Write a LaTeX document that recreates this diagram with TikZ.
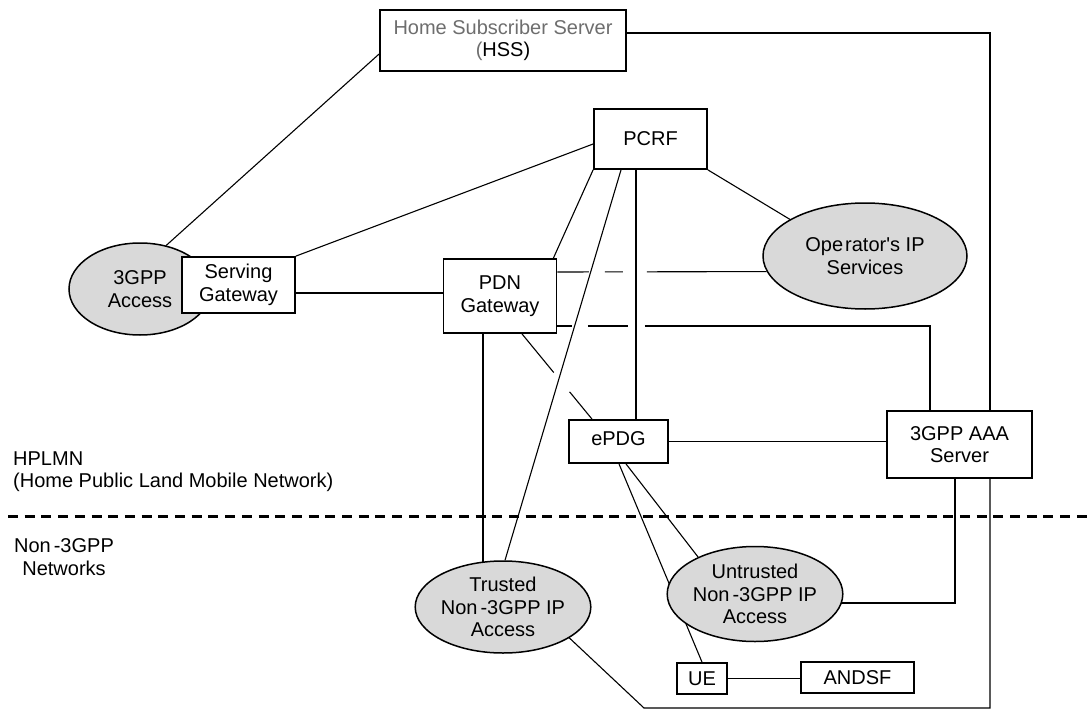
\documentclass[tikz,border=0pt]{standalone}
\usepackage{fontspec}
\setmainfont{Liberation Sans}
\usetikzlibrary{shapes.geometric,calc}
\pgfdeclarelayer{bg}
\pgfsetlayers{bg,main}
\definecolor{accfill}{HTML}{D9D9D9}
\definecolor{hssgray}{HTML}{6E6E6E}
\begin{document}
\begin{tikzpicture}[x=1pt,y=-1pt,
  every node/.style={font=\fontsize{20}{22.5}\selectfont, align=center, inner sep=0pt},
  box/.style={draw, line width=1.8pt, fill=white, rectangle},
  cloud/.style={draw, line width=1.5pt, fill=accfill, ellipse},
  conn/.style={line width=1.1pt},
  sep/.style={line width=3pt, dash pattern=on 10pt off 6.7pt},
  lbl/.style={anchor=base west, align=left}
]
\useasboundingbox (0,0) rectangle (1092,709);

% ellipses
\node[cloud, minimum width=142pt, minimum height=92pt] (acc3) at (140,289) {3GPP\\Access};
\node[cloud, minimum width=204pt, minimum height=106pt] (ops) at (865,256) {Ope\kern2pt rator\textquotesingle s IP\\Services};
\node[cloud, minimum width=142pt, minimum height=92pt] (trusted) at (503,607) {Trusted\\Non\kern3pt-3GPP IP\\Access};
\node[cloud, minimum width=142pt, minimum height=95pt] (untrusted) at (755,594) {Untrusted\\Non\kern3pt-3GPP IP\\Access};

% boxes
\node[box, minimum width=246pt, minimum height=61pt] (hss) at (503,40.5) {\textcolor{hssgray}{Home Subscriber Server}\\\textcolor{hssgray}{(}HSS)};
\node[box, minimum width=113pt, minimum height=60pt] (pcrf) at (650.5,139) {PCRF};
\node[box, minimum width=113pt, minimum height=56pt] (sgw) at (238.5,285) {Serving\\Gateway};
\node[box, minimum width=113pt, minimum height=74pt] (pdn) at (500,296) {\raisebox{9pt}{\parbox{100pt}{\centering PDN\\Gateway}}};
\node[box, minimum width=99pt, minimum height=43pt] (epdg) at (618.5,441.5) {\raisebox{5pt}{ePDG}};
\node[box, minimum width=145pt, minimum height=67pt] (aaa) at (959.5,444.5) {3GPP AAA\\Server};
\node[box, minimum width=50pt, minimum height=31pt] (ue) at (702,678.5) {UE};
\node[box, minimum width=113pt, minimum height=31pt] (andsf) at (857.5,677.5) {ANDSF};

% labels
\node[lbl] (hplmn) at (13,487.5) {HPLMN\\(Home Public Land Mobile Network)};
\node[anchor=base, align=center] (non3gpp) at (64,575) {Non\kern3pt-3GPP\\Networks};

\coordinate (c1) at (644,708);

\begin{pgfonlayer}{bg}
\draw[conn] ([yshift=-13.5pt]hss.west) -- (acc3.59);
\draw[conn] ([yshift=7.5pt]hss.east) -| ([xshift=30.5pt]aaa.north);
\draw[conn] (sgw.north east) -- ([yshift=-5pt]pcrf.west);
\draw[conn] ([yshift=-8pt]sgw.east) -- ([yshift=3pt]pdn.west);
\draw[conn] (pcrf.south west) -- ([xshift=-4pt]pdn.north east);
\draw[conn] ([xshift=-29.5pt]pcrf.south) -- ([xshift=2pt]trusted.north);
\draw[conn] ([xshift=-14.5pt]pcrf.south) -- ([xshift=17.5pt]epdg.north);
\draw[conn] (pcrf.south east) -- (ops.154);
\draw[conn, dash pattern=on 31.5pt off 16pt on 18pt off 24pt on 400pt] ([yshift=24pt]pdn.east) -- (ops.189.4);
\draw[conn, dash pattern=on 14.5pt off 16pt on 40pt off 17pt on 1000pt] ([yshift=-30pt]pdn.east) -| ([xshift=-29.5pt]aaa.north);
\draw[conn] ([xshift=-17pt]pdn.south) -- ([xshift=-17pt]pdn.south |- trusted.center);
\draw[conn, dash pattern=on 50pt off 25pt on 200pt] ([xshift=22pt]pdn.south) -- ([xshift=-26.5pt]epdg.north);
\draw[conn] (epdg.east) -- (epdg.east -| aaa.west);
\draw[conn] ([xshift=7.5pt]epdg.south) -- (untrusted.147.6);
\draw[conn] ([xshift=0.5pt]epdg.south) -- (ue.north);
\draw[conn] (ue.east) -- (ue.east -| andsf.west);
\draw[conn] ([xshift=-4.5pt]aaa.south) |- ([yshift=-9pt]untrusted.center);
\draw[conn] ([xshift=30.5pt]aaa.south) |- (c1) -- (trusted.-25);
\end{pgfonlayer}

\draw[sep] (8,516) -- (1092,516);
\end{tikzpicture}
\end{document}
